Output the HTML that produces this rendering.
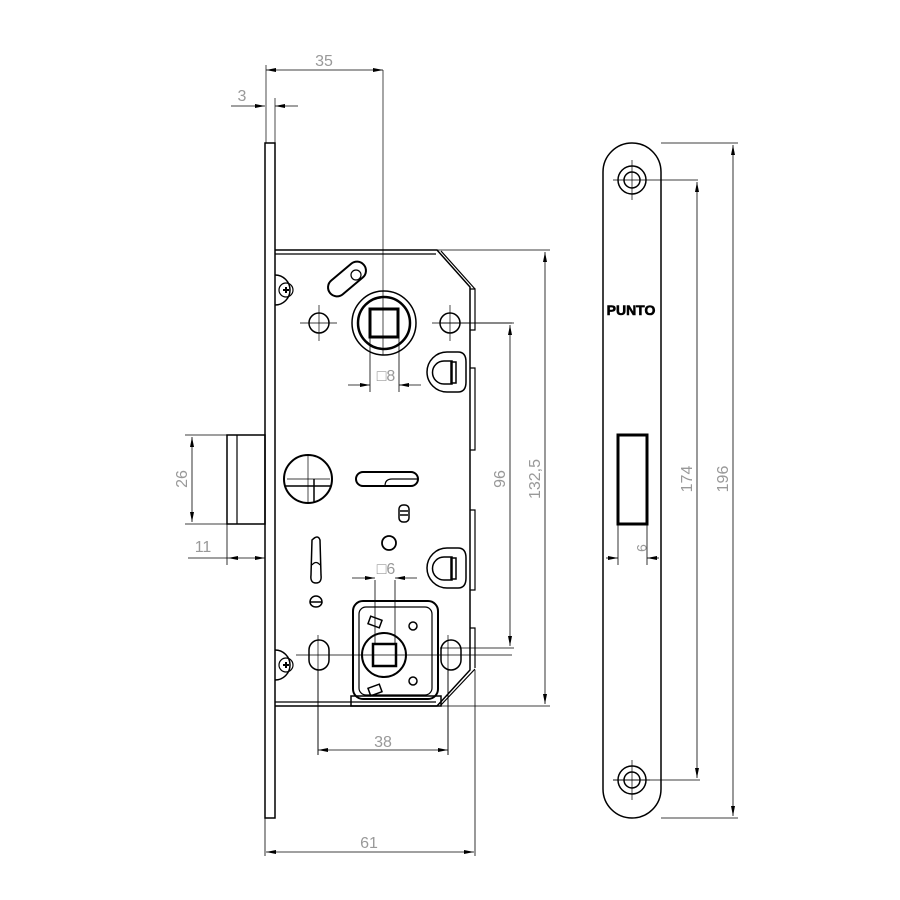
<!DOCTYPE html>
<html><head><meta charset="utf-8"><style>html,body{margin:0;background:#fff}svg{display:block}</style></head><body>
<svg width="900" height="900" viewBox="0 0 900 900" xmlns="http://www.w3.org/2000/svg">
<defs>
<marker id="a" viewBox="0 0 10 4" refX="10" refY="2" markerWidth="10" markerHeight="4" orient="auto-start-reverse" markerUnits="userSpaceOnUse"><path d="M0,0L10,2L0,4z" fill="#000"/></marker>
</defs>
<g fill="none" stroke="#000">
<rect x="265" y="143" width="10" height="675" stroke-width="1.5"/>
<rect x="227" y="435" width="38" height="89" stroke-width="1.5"/>
<line x1="237" y1="435" x2="237" y2="524" stroke-width="1.2"/>
<path d="M275,250 L437,250 L470,287 L470,670 L437,706 L275,706" stroke-width="1.5"/>
<line x1="275" y1="254" x2="436" y2="254" stroke-width="1.2"/>
<line x1="275" y1="702" x2="436" y2="702" stroke-width="1.2"/>
<path d="M441,251 L475,289" stroke-width="1.2"/>
<path d="M441,705 L475,669" stroke-width="1.2"/>
<path d="M470,289 L475,289 L475,330 L470,330 M470,368 L475,368 L475,450 L470,450 M470,510 L475,510 L475,590 L470,590 M470,628 L475,628 L475,668" stroke-width="1.2"/>
<path d="M275,275 A15,15 0 0 1 275,305" stroke-width="1.5"/><circle cx="286" cy="290" r="7" stroke-width="1.2"/>
<path d="M275,650 A15,15 0 0 1 275,680" stroke-width="1.5"/><circle cx="286" cy="665" r="7" stroke-width="1.2"/>
<path d="M283,290h6M286,287v6M283,665h6M286,662v6" stroke-width="2"/>
<rect x="325" y="270" width="44" height="18" rx="9" transform="rotate(-40 347 279)" stroke-width="2"/>
<circle cx="356" cy="275" r="5" stroke-width="1.2"/>
<circle cx="319" cy="323" r="10" stroke-width="1.5"/>
<circle cx="450" cy="323" r="10" stroke-width="1.5"/>
<circle cx="384" cy="323" r="32" stroke-width="1.5"/>
<circle cx="384" cy="323" r="26" stroke-width="2.5"/>
<rect x="370" y="309" width="28" height="28" stroke-width="3"/>
<path d="M447,352 L458,352 Q466,352 466,362 L466,382 Q466,392 458,392 L447,392 A20,20 0 0 1 447,352z" stroke-width="1.5"/>
<path d="M452,361 L452,384 L444,384 A11,11 0 0 1 444,361z" stroke-width="1.5"/>
<rect x="451" y="362" width="5" height="21" stroke-width="1.5"/>
<path d="M447,548 L458,548 Q466,548 466,558 L466,578 Q466,588 458,588 L447,588 A20,20 0 0 1 447,548z" stroke-width="1.5"/>
<path d="M452,557 L452,580 L444,580 A11,11 0 0 1 444,557z" stroke-width="1.5"/>
<rect x="451" y="558" width="5" height="21" stroke-width="1.5"/>
<circle cx="308" cy="479" r="24" stroke-width="2"/>
<path d="M285,486 H331 M314,479 V503" stroke-width="1.5"/>
<rect x="356" y="472" width="62" height="14" rx="7" stroke-width="2"/>
<path d="M385,486 Q385,479 392,479 L418,479" stroke-width="1.2"/>
<rect x="399" y="505" width="10" height="17" rx="4" stroke-width="1.5"/>
<path d="M400,511h8M400,515h8" stroke-width="1.5"/>
<circle cx="389" cy="543" r="7" stroke-width="1.8"/>
<path d="M312,540 Q318,534 320,540 L321,575 Q322,583 316,583 Q310,583 311,575z" stroke-width="1.5"/>
<path d="M312,565 Q316,560 320,565" stroke-width="1.2"/>
<path d="M310,602 A6,6 0 1 1 322,602 L310,602 A6,5 0 0 0 322,602" stroke-width="1.5"/>
<rect x="353" y="601" width="85" height="98" rx="10" stroke-width="2"/>
<rect x="359" y="607" width="73" height="88" rx="7" stroke-width="1.2"/>
<rect x="351" y="696" width="90" height="10" stroke-width="1.5"/>
<circle cx="384" cy="655" r="22" stroke-width="2"/>
<rect x="373" y="644" width="23" height="22" stroke-width="2.5"/>
<circle cx="413" cy="626" r="4" stroke-width="1.5"/><circle cx="413" cy="681" r="4" stroke-width="1.5"/>
<rect x="369" y="618" width="12" height="8" transform="rotate(20 375 622)" stroke-width="1.5"/>
<rect x="369" y="686" width="12" height="8" transform="rotate(-20 375 690)" stroke-width="1.5"/>
<rect x="309" y="640" width="20" height="30" rx="10" stroke-width="1.5"/>
<rect x="441" y="640" width="20" height="30" rx="10" stroke-width="1.5"/>
<rect x="603" y="143" width="58" height="675" rx="29" stroke-width="1.5"/>
<circle cx="632" cy="180" r="14" stroke-width="1.5"/><circle cx="632" cy="180" r="8" stroke-width="1.5"/>
<circle cx="632" cy="780" r="14" stroke-width="1.5"/><circle cx="632" cy="780" r="8" stroke-width="1.5"/>
<rect x="618" y="435" width="29" height="89" stroke-width="3"/>
</g>
<g stroke="#000" stroke-width="0.7" fill="none">
<path d="M300,323 H337 M432,323 H512 M319,305V341 M450,305V341 M613,180H698 M632,160V200 M613,780H650 M632,760V800 M287,479H330 M308,455V503 M296,655H512 M318,635V755 M448,635V755"/>
<path d="M383,70 V355 M266,65V143 M275,98V143"/>
</g>
<g stroke="#000" stroke-width="0.8" fill="none">
<line x1="266" y1="70" x2="383" y2="70" marker-start="url(#a)" marker-end="url(#a)"/>
<line x1="231" y1="106" x2="265" y2="106" marker-end="url(#a)"/>
<line x1="298" y1="106" x2="275" y2="106" marker-end="url(#a)"/>
<path d="M437,250H550 M437,706H550 M440,323H514 M440,648H514 M661,143H738 M185,435H227 M185,524H227 M227,524V565 M370,337V392 M399,337V392 M375,580V644 M395,580V644 M318,670V755 M448,670V755 M265,818V856 M475,670V856 M618,524V565 M647,524V565"/>
<line x1="545" y1="252" x2="545" y2="704" marker-start="url(#a)" marker-end="url(#a)"/>
<line x1="510" y1="325" x2="510" y2="646" marker-start="url(#a)" marker-end="url(#a)"/>
<line x1="192" y1="437" x2="192" y2="522" marker-start="url(#a)" marker-end="url(#a)"/>
<line x1="188" y1="558" x2="228" y2="558" />
<line x1="228" y1="558" x2="265" y2="558" marker-start="url(#a)" marker-end="url(#a)"/>
<line x1="318" y1="750" x2="448" y2="750" marker-start="url(#a)" marker-end="url(#a)"/>
<line x1="266" y1="852" x2="474" y2="852" marker-start="url(#a)" marker-end="url(#a)"/>
<line x1="697" y1="182" x2="697" y2="778" marker-start="url(#a)" marker-end="url(#a)"/>
<line x1="733" y1="145" x2="733" y2="816" marker-start="url(#a)" marker-end="url(#a)"/>
<path d="M661,818H738 M613,780H700"/>
<line x1="348" y1="385" x2="370" y2="385" marker-end="url(#a)"/>
<line x1="421" y1="385" x2="399" y2="385" marker-end="url(#a)"/>
<line x1="352" y1="578" x2="375" y2="578" marker-end="url(#a)"/>
<line x1="417" y1="578" x2="395" y2="578" marker-end="url(#a)"/>
<line x1="606" y1="558" x2="618" y2="558" marker-end="url(#a)"/>
<line x1="659" y1="558" x2="647" y2="558" marker-end="url(#a)"/>
</g>
<g font-family="Liberation Sans, sans-serif" fill="#999" font-size="16">
<text x="324" y="66" text-anchor="middle">35</text>
<text x="242" y="101" text-anchor="middle">3</text>
<text x="386" y="381" text-anchor="middle">□8</text>
<text x="386" y="574" text-anchor="middle">□6</text>
<text x="203" y="552" text-anchor="middle">11</text>
<text x="383" y="747" text-anchor="middle">38</text>
<text x="369" y="848" text-anchor="middle">61</text>
<text transform="translate(187 479) rotate(-90)" text-anchor="middle">26</text>
<text transform="translate(505 479) rotate(-90)" text-anchor="middle">96</text>
<text transform="translate(540 479) rotate(-90)" text-anchor="middle">132,5</text>
<text transform="translate(692 479) rotate(-90)" text-anchor="middle">174</text>
<text transform="translate(728 479) rotate(-90)" text-anchor="middle">196</text>
<text transform="translate(637 548) rotate(90)" text-anchor="middle" font-size="14">9</text>
</g>
<text x="631" y="315" text-anchor="middle" font-family="Liberation Sans, sans-serif" font-weight="bold" font-size="14" fill="#000" stroke="#000" stroke-width="0.6">PUNTO</text>
</svg>
</body></html>
